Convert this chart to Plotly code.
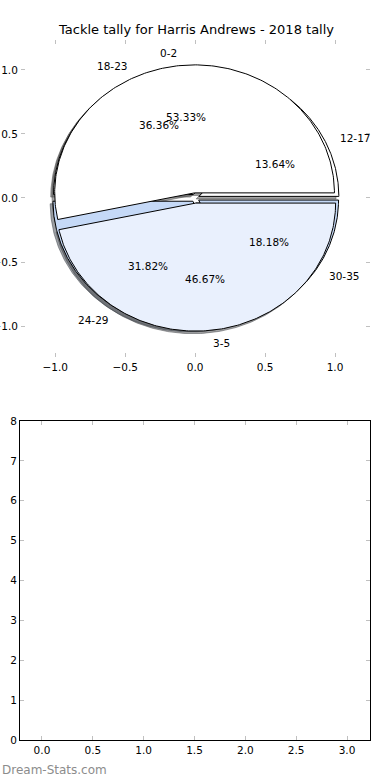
import numpy as np
import plotly.graph_objects as go

# ---------------- data ----------------
outer_labels = ["0-2", "3-5"]
outer_values = [8, 7]
inner_labels = ["12-17", "18-23", "24-29", "30-35"]
inner_values = [3, 8, 7, 4]
title_text = "Tackle tally for Harris Andrews - 2018 tally"
pie_ticks = [-1.0, -0.5, 0.0, 0.5, 1.0]
pie_ticktext = ["\u22121.0", "\u22120.5", "0.0", "0.5", "1.0"]
bar_xticks = [0.0, 0.5, 1.0, 1.5, 2.0, 2.5, 3.0]
bar_yticks = [0, 1, 2, 3, 4, 5, 6, 7, 8]

# ---------------- style ----------------
outer_colors = ["#ffffff", "#e9f0fd"]
inner_colors = ["#ffffff", "#ffffff", "#c5d9f7", "#c5d9f7"]
outer_explode = 0.04
inner_explode = 0.03
FONT = "DejaVu Sans"
W, H = 390, 780


def hex_rgb(h):
    h = h.lstrip("#")
    return tuple(int(h[i:i + 2], 16) for i in (0, 2, 4))


def wedges(values, explode):
    vals = np.asarray(values, dtype=float)
    frac = vals / vals.sum()
    out = []
    t1 = 0.0
    for f in frac:
        t2 = t1 + 360.0 * f
        tm = np.deg2rad((t1 + t2) / 2)
        cx, cy = explode * np.cos(tm), explode * np.sin(tm)
        th = np.deg2rad(np.linspace(t1, t2, 200))
        xs = np.concatenate([[cx], cx + np.cos(th), [cx]])
        ys = np.concatenate([[cy], cy + np.sin(th), [cy]])
        out.append(dict(xs=xs, ys=ys, cx=cx, cy=cy, tm=tm, frac=f))
        t1 = t2
    return out


outer_w = wedges(outer_values, outer_explode)
inner_w = wedges(inner_values, inner_explode)

fig = go.Figure()

# shadows (drawn beneath every wedge)
for wl, cols in ((outer_w, outer_colors), (inner_w, inner_colors)):
    for w, c in zip(wl, cols):
        r, g, b = hex_rgb(c)
        sc = f"rgba({int(r*0.3)},{int(g*0.3)},{int(b*0.3)},0.5)"
        fig.add_trace(go.Scatter(x=w["xs"] - 0.02, y=w["ys"] - 0.02, mode="lines",
                                 fill="toself", fillcolor=sc,
                                 line=dict(color=sc, width=1),
                                 hoverinfo="skip", showlegend=False,
                                 xaxis="x", yaxis="y"))

# inner pie first, outer pie on top
for wl, cols in ((inner_w, inner_colors), (outer_w, outer_colors)):
    for w, c in zip(wl, cols):
        fig.add_trace(go.Scatter(x=w["xs"], y=w["ys"], mode="lines",
                                 fill="toself", fillcolor=c,
                                 line=dict(color="black", width=1),
                                 hoverinfo="skip", showlegend=False,
                                 xaxis="x", yaxis="y"))

annotations = []
for wl, labels in ((outer_w, outer_labels), (inner_w, inner_labels)):
    for w, lab in zip(wl, labels):
        lx = w["cx"] + 1.1 * np.cos(w["tm"])
        ly = w["cy"] + 1.1 * np.sin(w["tm"])
        annotations.append(dict(x=lx, y=ly, xref="x", yref="y", text=lab,
                                showarrow=False, xanchor="left" if lx > 0 else "right",
                                yanchor="middle", borderpad=0,
                                font=dict(family=FONT, size=10.5, color="black")))
        px = w["cx"] + 0.6 * np.cos(w["tm"])
        py = w["cy"] + 0.6 * np.sin(w["tm"])
        annotations.append(dict(x=px, y=py, xref="x", yref="y",
                                text=f"{w['frac']*100:.2f}%",
                                showarrow=False, xanchor="center", yanchor="middle",
                                borderpad=0,
                                font=dict(family=FONT, size=10.5, color="black")))

# empty bar area trace to register the second axes
fig.add_trace(go.Scatter(x=[], y=[], xaxis="x2", yaxis="y2", showlegend=False))

annotations.append(dict(x=195.5 / W, y=1 - 30 / H, xref="paper", yref="paper",
                        text=title_text, showarrow=False, xanchor="center",
                        yanchor="middle",
                        font=dict(family=FONT, size=13, color="black")))
annotations.append(dict(x=0, y=1 - 770 / H, xref="paper", yref="paper",
                        text="Dream-Stats.com", showarrow=False, xanchor="left",
                        yanchor="middle",
                        font=dict(family=FONT, size=12, color="#8c8c8c")))

tick_common = dict(ticks="inside", ticklen=4, tickcolor="#c0c0c0", tickwidth=1,
                   showgrid=False, zeroline=False, automargin=False,
                   tickfont=dict(family=FONT, size=10.5, color="black"))

fig.update_layout(
    width=W, height=H,
    margin=dict(l=0, r=0, t=0, b=0, autoexpand=False),
    paper_bgcolor="white", plot_bgcolor="white",
    showlegend=False,
    annotations=annotations,
    xaxis=dict(domain=[21 / W, 370 / W], range=[-1.245, 1.25],
               tickvals=pie_ticks, ticktext=pie_ticktext,
               showline=True, linecolor="rgba(0,0,0,0)", mirror="ticks",
               anchor="y", **tick_common),
    yaxis=dict(domain=[1 - 357 / H, 1 - 40 / H], range=[-1.242, 1.234],
               tickvals=pie_ticks, ticktext=pie_ticktext,
               showline=True, linecolor="rgba(0,0,0,0)", mirror="ticks",
               anchor="x", **tick_common),
    xaxis2=dict(domain=[20 / W, 370 / W], range=[-0.216, 3.226],
                tickvals=bar_xticks, ticktext=[f"{v:.1f}" for v in bar_xticks],
                showline=True, linecolor="black", linewidth=1, mirror="ticks",
                anchor="y2", **tick_common),
    yaxis2=dict(domain=[1 - 740 / H, 1 - 421 / H], range=[0, 8],
                tickvals=bar_yticks, ticktext=[str(v) for v in bar_yticks],
                showline=True, linecolor="black", linewidth=1, mirror="ticks",
                anchor="x2", **tick_common),
)

fig.write_html("out.html",
               config={"displayModeBar": False, "staticPlot": True},
               post_script="document.body.style.margin='0';"
                           "document.body.style.overflow='hidden';")
